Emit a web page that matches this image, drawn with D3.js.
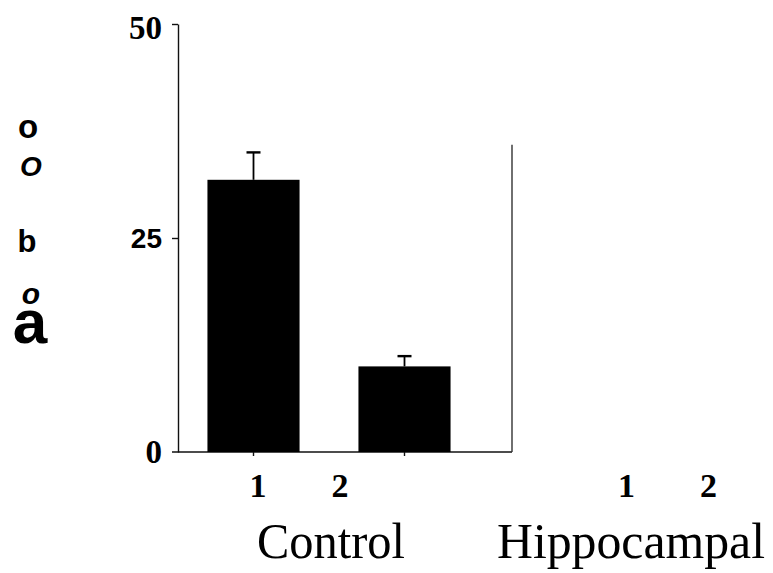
<!DOCTYPE html>
<html>
<head>
<meta charset="utf-8">
<script src="https://cdn.jsdelivr.net/npm/d3@7"></script>
<style>
  html, body { margin: 0; padding: 0; background: #fff; }
  svg { display: block; }
</style>
</head>
<body>
<svg id="chart" width="773" height="573"></svg>
<script>
// ---- data ----
const groups = ["Control", "Hippocampal"];
const conditions = ["1", "2"];
const controlValues = [31.8, 10.0];
const controlErrors = [3.2, 1.2];
const hippocampalValues = [];      // no bars visible in this panel
const yTickValues = [0, 25, 50];
const yTickLabels = ["0", "25", "50"];
const sideLabels = ["o", "O", "b", "o", "a"];

// ---- drawing ----
const svg = d3.select("#chart");
const serif = "'Liberation Serif', 'Times New Roman', serif";
const sans = "'Liberation Sans', Arial, sans-serif";

const y = d3.scaleLinear().domain([0, 50]).range([452, 24]);
const x = d3.scaleBand().domain(conditions).range([178, 480])
  .paddingInner(0.39).paddingOuter(0.195);

// group label scale and per-group sub-label scale
const gx = d3.scalePoint().domain(groups).range([331, 631]);
const numGroupCenter = d3.scalePoint().domain(groups).range([299, 667.5]);
const sub = d3.scalePoint().domain(conditions).range([-41, 41]);

// y axis
const yAxis = d3.axisLeft(y).tickValues([25, 50]).tickSize(6).tickSizeOuter(0).tickFormat("");
const yg = svg.append("g").attr("transform", "translate(178,0)").call(yAxis);
yg.select(".domain").attr("stroke", "#111").attr("stroke-width", 1.4);
yg.selectAll(".tick line").attr("stroke", "#111").attr("stroke-width", 1.4);

// x baseline
svg.append("line")
  .attr("x1", 172).attr("x2", 512)
  .attr("y1", y(0)).attr("y2", y(0))
  .attr("stroke", "#111").attr("stroke-width", 1.6);

// x ticks
const xAxis = d3.axisBottom(x).tickSize(4).tickSizeOuter(0).tickFormat("");
const xg = svg.append("g").attr("transform", `translate(0,${y(0)})`).call(xAxis);
xg.select(".domain").remove();
xg.selectAll(".tick line").attr("stroke", "#111").attr("stroke-width", 1.4);

// right panel border
svg.append("line")
  .attr("x1", 512).attr("x2", 512)
  .attr("y1", y(35.9)).attr("y2", y(0))
  .attr("stroke", "#333").attr("stroke-width", 1.4);

// y tick labels
svg.selectAll("text.ylab").data(yTickValues).enter().append("text")
  .attr("class", "ylab")
  .attr("x", 162)
  .attr("y", d => y(d) + (d === 50 ? 4 : 0))
  .attr("dominant-baseline", "central")
  .attr("text-anchor", "end")
  .attr("font-family", d => d === 25 ? sans : serif)
  .attr("font-weight", "bold")
  .attr("font-size", d => d === 25 ? 28 : 33)
  .text((d, i) => yTickLabels[i]);

// bars
svg.selectAll("rect.bar").data(conditions).enter().append("rect")
  .attr("class", "bar")
  .attr("x", d => x(d))
  .attr("y", (d, i) => y(controlValues[i]))
  .attr("width", x.bandwidth())
  .attr("height", (d, i) => y(0) - y(controlValues[i]))
  .attr("fill", "#000");

// error bars
const eb = svg.selectAll("g.err").data(conditions).enter().append("g").attr("class", "err");
eb.append("line")
  .attr("x1", d => x(d) + x.bandwidth() / 2)
  .attr("x2", d => x(d) + x.bandwidth() / 2)
  .attr("y1", (d, i) => y(controlValues[i]))
  .attr("y2", (d, i) => y(controlValues[i] + controlErrors[i]))
  .attr("stroke", "#000").attr("stroke-width", 1.8);
eb.append("line")
  .attr("x1", d => x(d) + x.bandwidth() / 2 - 7)
  .attr("x2", d => x(d) + x.bandwidth() / 2 + 7)
  .attr("y1", (d, i) => y(controlValues[i] + controlErrors[i]))
  .attr("y2", (d, i) => y(controlValues[i] + controlErrors[i]))
  .attr("stroke", "#000").attr("stroke-width", 2.4);

// condition number labels
groups.forEach(g => {
  svg.selectAll(null).data(conditions).enter().append("text")
    .attr("x", d => numGroupCenter(g) + sub(d))
    .attr("y", 497)
    .attr("text-anchor", "middle")
    .attr("font-family", serif)
    .attr("font-weight", "bold")
    .attr("font-size", 34)
    .text(d => d);
});

// group labels
svg.selectAll("text.grp").data(groups).enter().append("text")
  .attr("class", "grp")
  .attr("x", d => gx(d))
  .attr("y", 558)
  .attr("text-anchor", "middle")
  .attr("font-family", serif)
  .attr("font-size", 51)
  .attr("textLength", d => d === "Control" ? 148 : 268)
  .attr("lengthAdjust", "spacingAndGlyphs")
  .text(d => d);

// left side (garbled axis title) glyphs
const sideStyle = [
  {y: 138, size: 33, style: "normal", weight: "bold", x: 28},
  {y: 176, size: 28, style: "italic", weight: "bold", x: 31},
  {y: 252, size: 31, style: "normal", weight: "bold", x: 27},
  {y: 304, size: 30, style: "italic", weight: "bold", x: 31},
  {y: 343, size: 62, style: "normal", weight: "bold", x: 30}
];
svg.selectAll("text.side").data(sideLabels).enter().append("text")
  .attr("class", "side")
  .attr("x", (d, i) => sideStyle[i].x)
  .attr("y", (d, i) => sideStyle[i].y)
  .attr("text-anchor", "middle")
  .attr("font-family", sans)
  .attr("font-weight", (d, i) => sideStyle[i].weight)
  .attr("font-style", (d, i) => sideStyle[i].style)
  .attr("font-size", (d, i) => sideStyle[i].size)
  .text(d => d);
</script>
</body>
</html>
